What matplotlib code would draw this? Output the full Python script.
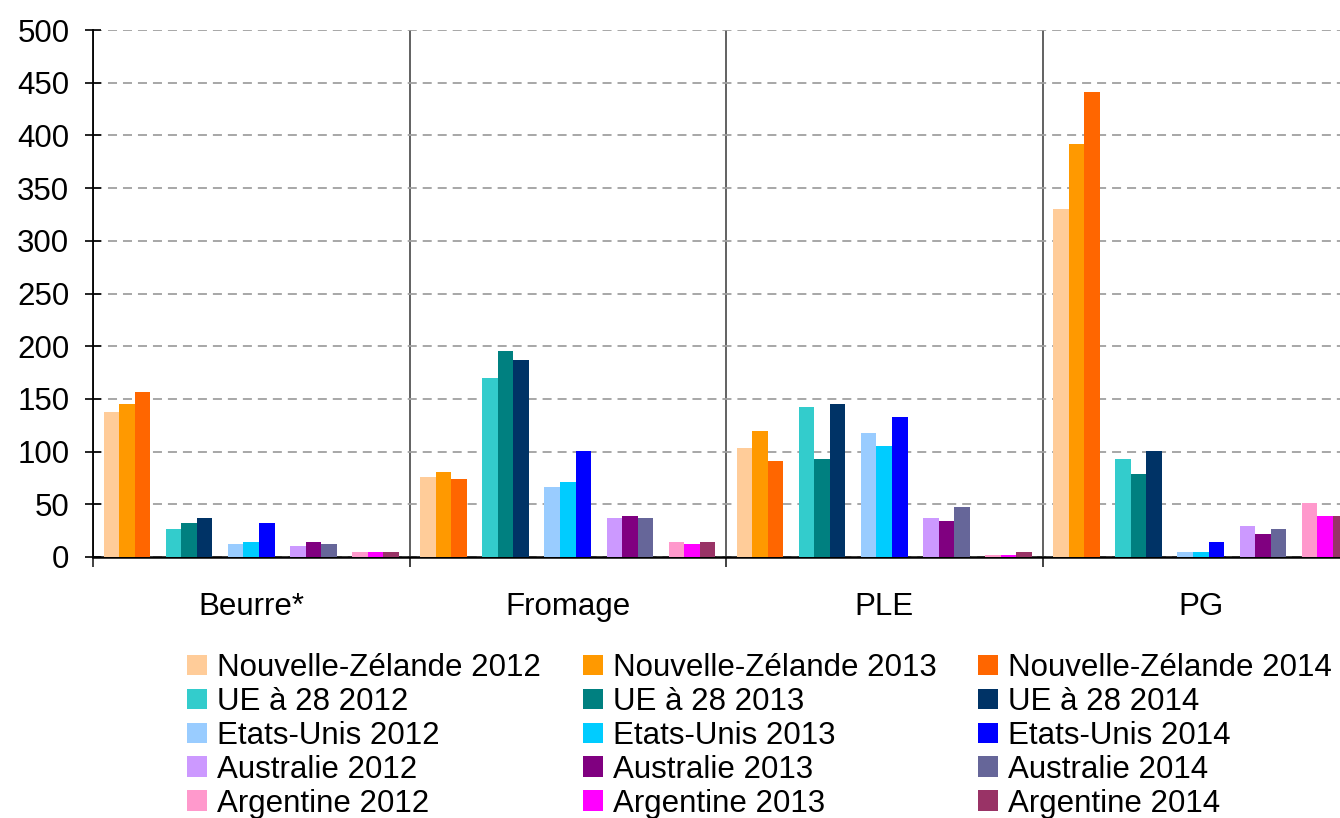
import numpy as np
import matplotlib
matplotlib.use('Agg')
import matplotlib.pyplot as plt
from matplotlib.patches import Patch

plt.rcParams['font.family'] = ['Liberation Sans', 'DejaVu Sans']

categories = ['Beurre*', 'Fromage', 'PLE', 'PG']
countries = ['Nouvelle-Zélande', 'UE à 28', 'Etats-Unis', 'Australie', 'Argentine']
years = ['2012', '2013', '2014']

# values per country: rows = years, columns = categories
nz_values = [[138, 76, 103, 330],
             [145, 81, 120, 392],
             [157, 74, 91, 441]]
ue_values = [[27, 170, 142, 93],
             [32, 195, 93, 79],
             [37, 187, 145, 101]]
us_values = [[12, 66, 118, 5],
             [14, 71, 105, 5],
             [32, 101, 133, 14]]
au_values = [[10, 37, 37, 29],
             [14, 39, 34, 22],
             [12, 37, 47, 27]]
ar_values = [[5, 14, 2, 51],
             [5, 12, 2, 39],
             [5, 14, 5, 39]]

colors = {'Nouvelle-Zélande': ['#FFCC99', '#FF9900', '#FF6600'],
          'UE à 28': ['#33CCCC', '#008080', '#003366'],
          'Etats-Unis': ['#99CCFF', '#00CCFF', '#0000FF'],
          'Australie': ['#CC99FF', '#800080', '#666699'],
          'Argentine': ['#FF99CC', '#FF00FF', '#993366']}

all_values = {'Nouvelle-Zélande': nz_values, 'UE à 28': ue_values, 'Etats-Unis': us_values,
              'Australie': au_values, 'Argentine': ar_values}

fs = 22.5

fig = plt.figure(figsize=(13.4, 8.18), dpi=100)
ax = fig.add_axes([93 / 1340, 1 - 557 / 818, (1359 - 93) / 1340, (557 - 30) / 818])

# 19 slots per category (3 bars + 1 empty slot per country), excel style gap on both sides
gap = 0.068
n_slots = 19
w = (1 - gap) / n_slots
x_cat = np.arange(len(categories))

for c_i, country in enumerate(countries):
    for y_i, year in enumerate(years):
        slot = 4 * c_i + y_i
        x = x_cat - 0.5 + gap / 2 + (slot + 0.5) * w
        ax.bar(x, all_values[country][y_i], width=w, color=colors[country][y_i],
               linewidth=0, zorder=3)

ax.set_xlim(-0.5, len(categories) - 0.5)
ax.set_ylim(0, 500)
ax.set_yticks(np.arange(0, 501, 50))
ax.yaxis.grid(True, color='#A0A0A0', linestyle=(0, (5, 3.3)), linewidth=1.3, zorder=0)

ax.set_xticks(x_cat)
ax.set_xticklabels(categories)
ax.set_xticks(np.arange(-0.5, len(categories), 1), minor=True)
ax.xaxis.grid(True, which='minor', color='#555555', linewidth=1.3, zorder=1)
ax.tick_params(axis='x', which='major', length=0, pad=25, labelsize=fs)
ax.tick_params(axis='x', which='minor', direction='out', length=7, width=1.3, color='#333333')
ax.tick_params(axis='y', direction='inout', length=12, width=1.2, pad=11, labelsize=fs)

for side in ['top', 'right']:
    ax.spines[side].set_visible(False)
ax.spines['left'].set_linewidth(1.3)
ax.spines['bottom'].set_linewidth(1.8)

# legend: row = country, column = year (matplotlib fills column first)
handles = []
labels = []
for y_i, year in enumerate(years):
    for country in countries:
        handles.append(Patch(facecolor=colors[country][y_i], edgecolor='none'))
        labels.append(country + ' ' + year)
fig.legend(handles, labels, ncol=3, loc='upper left', bbox_to_anchor=(187 / 1340, 1 - 653 / 818),
           frameon=False, fontsize=fs, borderpad=0, borderaxespad=0, handlelength=0.64,
           handleheight=0.64, handletextpad=0.32, columnspacing=1.34, labelspacing=0.125)

plt.savefig('out.png', dpi=100)
plt.close()
